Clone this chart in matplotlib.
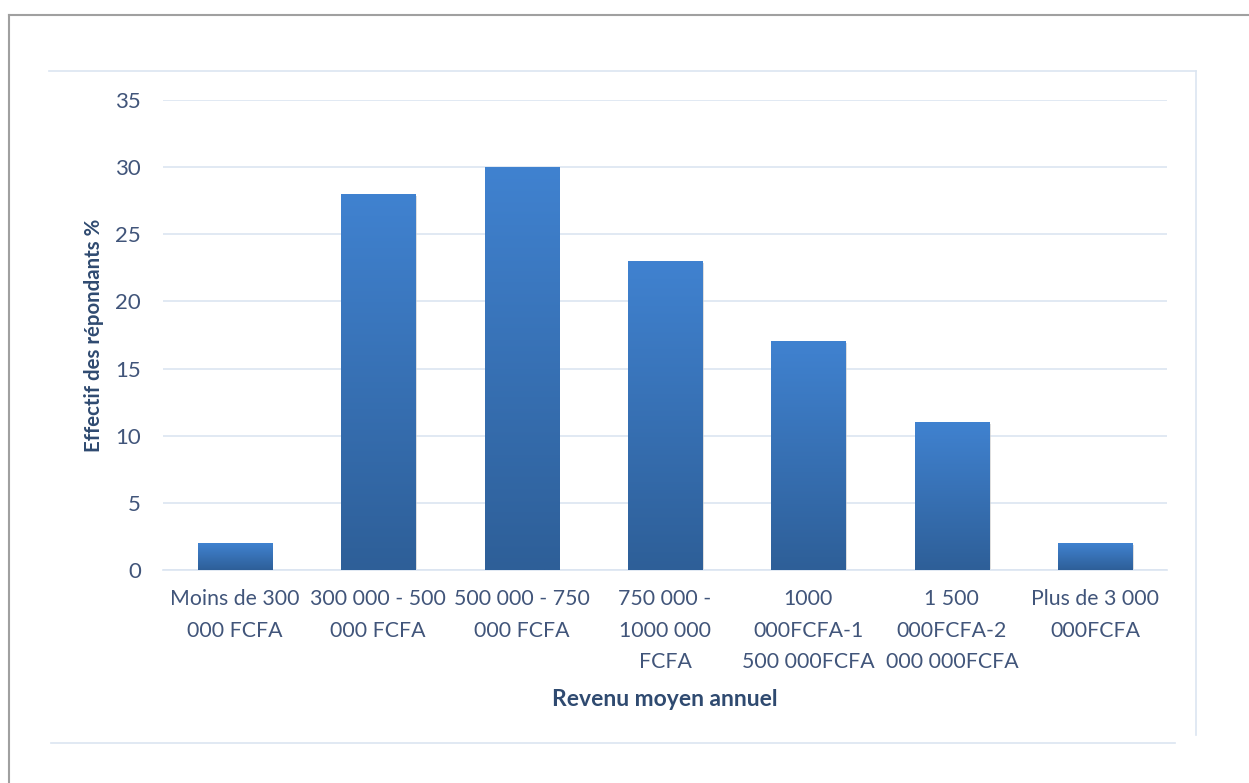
import matplotlib.pyplot as plt
import numpy as np
from matplotlib.colors import LinearSegmentedColormap
from matplotlib.lines import Line2D

categories = ["Moins de 300\n000 FCFA", "300 000 - 500\n000 FCFA", "500 000 - 750\n000 FCFA",
              "750 000 -\n1000 000\nFCFA", "1000\n000FCFA-1\n500 000FCFA", "1 500\n000FCFA-2\n000 000FCFA",
              "Plus de 3 000\n000FCFA"]
values = [2, 28, 30, 23, 17, 11, 2]
yticks = [0, 5, 10, 15, 20, 25, 30, 35]

plt.rcParams['font.family'] = ['Lato', 'DejaVu Sans']
txt_color = "#41557a"
lbl_color = "#2f4a70"
grid_color = "#dbe5f1"

fig = plt.figure(figsize=(12.49, 7.83), dpi=100)
ax = fig.add_axes([163/1249, 1-570/783, (1167-163)/1249, 470/783])

# gradient bars, lighter at top
cmap = LinearSegmentedColormap.from_list("bar", ["#2e5f98", "#4082d0"])
grad = np.linspace(0, 1, 256).reshape(-1, 1)
width = 0.516
x = np.arange(len(values))
for xi, v in zip(x, values):
    ax.imshow(grad, cmap=cmap, origin="lower", aspect="auto",
              extent=[xi - width/2, xi + width/2, 0, v], zorder=3)
    ax.add_patch(plt.Rectangle((xi - width/2 + 0.012, -0.12), width, v, facecolor="#c8c8c8",
                               edgecolor="none", alpha=0.6, zorder=2))

ax.set_xlim(-0.5, len(values) - 0.5)
ax.set_ylim(0, 35)
ax.set_yticks(yticks)
ax.set_xticks(x)
ax.set_xticklabels(categories, fontsize=15.3, color=txt_color, linespacing=1.7, va="top")
ax.tick_params(axis="y", labelsize=16, labelcolor=txt_color, length=0, pad=16)
ax.tick_params(axis="x", length=0, pad=14)
ax.grid(axis="y", color=grid_color, linewidth=1.2, zorder=0)
for s in ["top", "right", "left"]:
    ax.spines[s].set_visible(False)
ax.spines["bottom"].set_color(grid_color)
ax.spines["bottom"].set_linewidth(1.2)

ax.set_xlabel("Revenu moyen annuel", fontsize=16.5, fontweight="bold", color=lbl_color, labelpad=12)
ax.set_ylabel("Effectif des répondants %", fontsize=14.7, fontweight="bold", color=lbl_color, labelpad=8)

# outer page frame and inner chart frame
def fline(xs, ys, color, lw):
    fig.add_artist(Line2D([p/1249 for p in xs], [1 - p/783 for p in ys], color=color, linewidth=lw))

fline([9, 1249], [15, 15], "#a0a0a0", 1.5)
fline([9, 9], [15, 783], "#a0a0a0", 1.5)
fline([49, 1196], [71, 71], grid_color, 1.2)
fline([1196, 1196], [71, 735], grid_color, 1.2)
fline([51, 1175], [743, 743], grid_color, 1.2)

fig.savefig("out.png", dpi=100)
